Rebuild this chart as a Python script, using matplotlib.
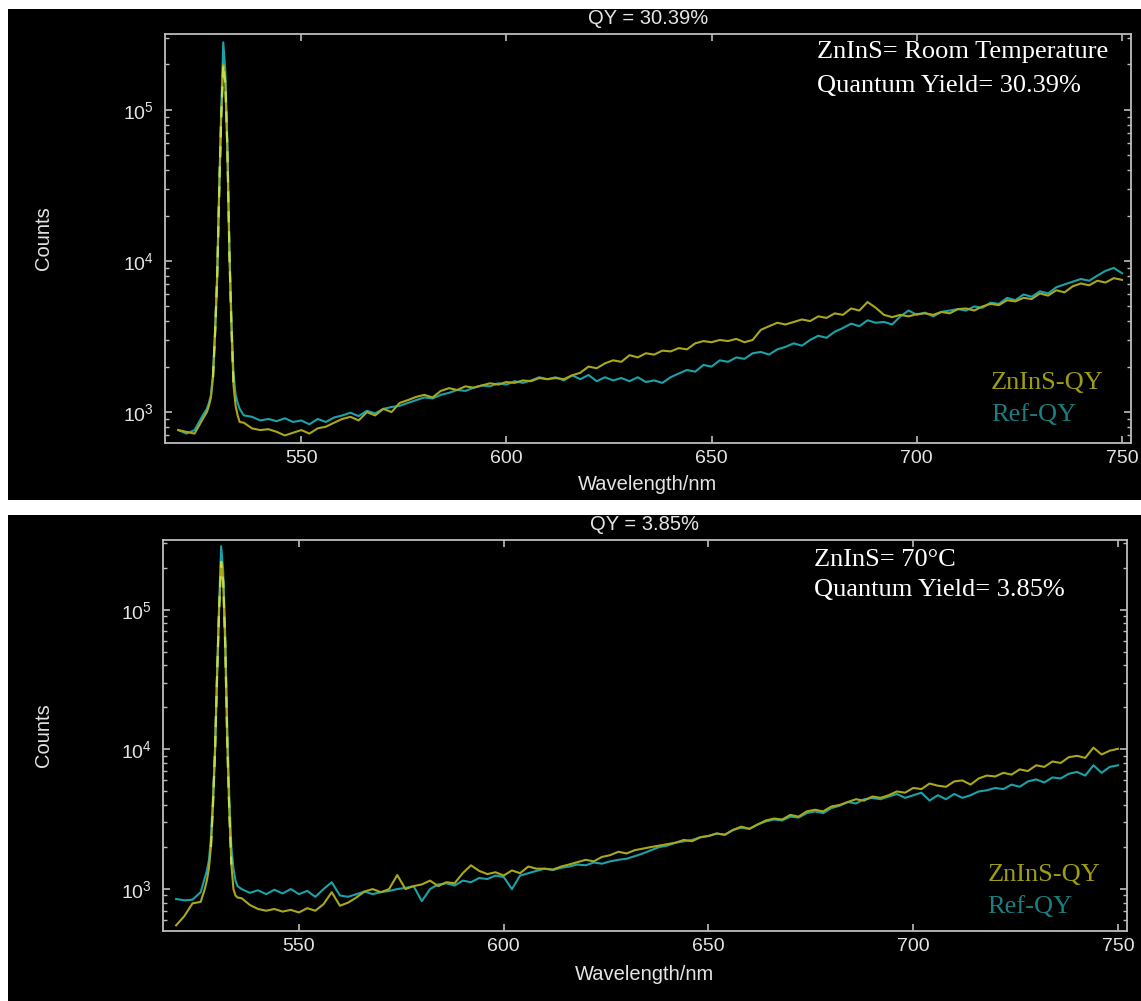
import matplotlib
matplotlib.use("Agg")
import matplotlib.pyplot as plt
from matplotlib.patches import Rectangle
from matplotlib.ticker import LogLocator, FixedLocator, NullFormatter

plt.rcParams['font.family'] = ['Liberation Sans', 'DejaVu Sans']
plt.rcParams['mathtext.default'] = 'regular'

# ---------------- data ----------------
wl_head = [520, 522, 524, 526,
           527, 527.5, 528, 528.5, 529, 529.5, 530, 530.5, 531, 531.5,
           532, 532.5, 533, 533.5, 534, 534.5, 535, 536]
wl_tail = [538, 540, 542, 544, 546, 548, 550, 552, 554, 556, 558, 560, 562, 564,
           566, 568, 570, 572, 574, 576, 578, 580, 582, 584, 586, 588, 590, 592,
           594, 596, 598, 600, 602, 604, 606, 608, 610, 612, 614, 616, 618, 620,
           622, 624, 626, 628, 630, 632, 634, 636, 638, 640, 642, 644, 646, 648,
           650, 652, 654, 656, 658, 660, 662, 664, 666, 668, 670, 672, 674, 676,
           678, 680, 682, 684, 686, 688, 690, 692, 694, 696, 698, 700, 702, 704,
           706, 708, 710, 712, 714, 716, 718, 720, 722, 724, 726, 728, 730, 732,
           734, 736, 738, 740, 742, 744, 746, 748, 750]
wavelength = wl_head + wl_tail

# Top panel (room temperature)
zn_rt_head = [760, 740, 720, 900,
              1000, 1100, 1250, 1700, 3300, 7500, 28000, 90000, 200000, 150000,
              55000, 11000, 3600, 1500, 1100, 950, 860, 850]
zn_rt_tail = [780, 760, 770, 740, 700, 730, 760, 720, 780, 800, 850, 900, 930, 880,
              1000, 950, 1050, 1000, 1150, 1200, 1260, 1300, 1250, 1380, 1440, 1400, 1480, 1450,
              1500, 1550, 1520, 1580, 1560, 1620, 1600, 1680, 1650, 1680, 1650, 1750, 1820, 2000,
              1950, 2100, 2200, 2150, 2380, 2300, 2450, 2400, 2550, 2520, 2650, 2600, 2850, 2950,
              2900, 3000, 2950, 3050, 2900, 3000, 3500, 3700, 3900, 3800, 3950, 4100, 4000, 4300,
              4200, 4500, 4400, 4850, 4700, 5350, 4900, 4400, 4250, 4400, 4300, 4450, 4500, 4400,
              4600, 4500, 4800, 4850, 4700, 5000, 5200, 5100, 5500, 5400, 5700, 5600, 6100, 5900,
              6400, 6200, 6800, 7100, 6900, 7400, 7200, 7700, 7500]
ref_rt_head = [760, 720, 760, 950,
               1050, 1150, 1300, 1800, 3500, 8000, 30000, 100000, 280000, 180000,
               60000, 12000, 4000, 1800, 1300, 1150, 1050, 950]
ref_rt_tail = [930, 880, 900, 870, 910, 860, 880, 830, 900, 860, 920, 950, 990, 940,
               1020, 980, 1050, 1080, 1100, 1150, 1200, 1250, 1230, 1300, 1340, 1400, 1380, 1450,
               1500, 1480, 1550, 1520, 1600, 1560, 1620, 1700, 1650, 1700, 1620, 1750, 1650, 1760,
               1600, 1700, 1620, 1680, 1600, 1700, 1580, 1620, 1560, 1700, 1800, 1900, 1850, 2050,
               2000, 2200, 2150, 2300, 2250, 2450, 2500, 2400, 2600, 2700, 2850, 2750, 3000, 3200,
               3100, 3400, 3600, 3850, 3700, 4050, 3900, 3950, 3800, 4300, 4700, 4400, 4550, 4300,
               4600, 4700, 4800, 4700, 5000, 4900, 5300, 5200, 5700, 5500, 6000, 5800, 6300, 6100,
               6700, 7000, 7300, 7600, 7400, 8000, 8600, 9000, 8300]

# Bottom panel (70 C)
zn_70_head = [550, 640, 790, 810,
              1000, 1150, 1400, 2000, 4000, 9500, 33000, 100000, 220000, 160000,
              55000, 11000, 3500, 1500, 1000, 900, 870, 860]
zn_70_tail = [770, 720, 700, 720, 690, 710, 680, 730, 700, 780, 950, 760, 800, 870,
              960, 1000, 950, 1000, 1260, 1000, 1050, 1080, 1150, 1050, 1120, 1100, 1300, 1480,
              1350, 1280, 1320, 1250, 1360, 1300, 1450, 1400, 1400, 1380, 1450, 1500, 1560, 1620,
              1580, 1700, 1750, 1850, 1800, 1900, 1950, 2000, 2050, 2100, 2150, 2250, 2200, 2350,
              2400, 2500, 2450, 2650, 2800, 2700, 2900, 3100, 3200, 3150, 3400, 3300, 3600, 3700,
              3600, 3900, 4000, 4200, 4400, 4300, 4600, 4500, 4700, 5000, 4900, 5300, 5200, 5700,
              5500, 5400, 5900, 6000, 5600, 6200, 6500, 6400, 6800, 6600, 7200, 7000, 7700, 7500,
              8200, 8000, 8800, 9000, 8700, 10300, 9200, 9800, 10100]
ref_70_head = [850, 830, 840, 950,
               1200, 1350, 1600, 2300, 4500, 10000, 35000, 110000, 285000, 190000,
               65000, 14000, 4500, 2000, 1400, 1150, 1050, 1000]
ref_70_tail = [940, 980, 920, 990, 930, 1000, 920, 970, 880, 1000, 1120, 900, 880, 920,
               960, 920, 950, 970, 1000, 1020, 1050, 820, 1000, 1080, 1100, 1060, 1150, 1120,
               1200, 1180, 1250, 1220, 1000, 1250, 1300, 1350, 1400, 1370, 1420, 1450, 1500, 1480,
               1550, 1520, 1580, 1620, 1650, 1720, 1800, 1900, 2000, 2050, 2150, 2200, 2250, 2350,
               2400, 2500, 2450, 2650, 2750, 2700, 2900, 3050, 3150, 3100, 3300, 3250, 3500, 3600,
               3500, 3800, 3950, 4200, 4100, 4400, 4500, 4400, 4600, 4800, 4500, 4700, 4900, 4300,
               4700, 4400, 4800, 4500, 4700, 5000, 5100, 5300, 5200, 5600, 5400, 5900, 6100, 5800,
               6300, 6200, 6700, 6900, 6500, 7700, 6800, 7500, 7700]

panels = [
    dict(title="QY = 30.39%", cond="ZnInS= Room Temperature", qy="Quantum Yield= 30.39%",
         zn=zn_rt_head + zn_rt_tail, ref=ref_rt_head + ref_rt_tail,
         ylim=(624, 3.18e5)),
    dict(title="QY = 3.85%", cond="ZnInS= 70\u00b0C", qy="Quantum Yield= 3.85%",
         zn=zn_70_head + zn_70_tail, ref=ref_70_head + ref_70_tail,
         ylim=(501, 3.16e5)),
]

xticks = [550, 600, 650, 700, 750]
zn_color = '#a9a81a'
ref_color = '#1aa2a8'
zn_text = '#9d9c14'
ref_text = '#1a7e80'
fg = '#e4e4e4'
spine = '#bdbdbd'

W, H = 1141, 1001
fig = plt.figure(figsize=(W / 100, H / 100), dpi=100, facecolor='white')

# black panel backgrounds
fig.patches.append(Rectangle((8 / W, 1 - 500 / H), (W - 8) / W, 491 / H,
                             transform=fig.transFigure, facecolor='black', edgecolor='none', zorder=-10))
fig.patches.append(Rectangle((8 / W, 0), (W - 8) / W, 486 / H,
                             transform=fig.transFigure, facecolor='black', edgecolor='none', zorder=-10))

axes_px = [(165, 1131, 34, 443), (163, 1127, 540, 931)]
xlab_y = [-0.079, -0.087]
ylab_x = [-0.116, -0.114]
cond_y = [(0.955, 0.873), (0.949, 0.872)]
leg_y = [(0.147, 0.068), (0.143, 0.061)]

for i, (p, (l, r, t, b)) in enumerate(zip(panels, axes_px)):
    ax = fig.add_axes([l / W, 1 - b / H, (r - l) / W, (b - t) / H])
    ax.set_facecolor('black')
    ax.set_yscale('log')
    ax.plot(wavelength, p['ref'], color=ref_color, lw=1.5, zorder=2)
    ax.plot(wavelength, p['zn'], color=zn_color, lw=1.5, zorder=3)
    # bright dashed overlap look in the excitation peak
    pk_w = [w for w in wavelength if 528.5 <= w <= 533.5]
    pk_z = [z for w, z in zip(wavelength, p['zn']) if 528.5 <= w <= 533.5]
    ax.plot(pk_w, pk_z, color='#c4dc46', lw=1.6, dashes=(5, 4), zorder=4)
    ax.set_xlim(516.8, 752.2)
    ax.set_ylim(*p['ylim'])
    for s in ax.spines.values():
        s.set_color(spine)
        s.set_linewidth(1.3)
    ax.xaxis.set_major_locator(FixedLocator(xticks))
    ax.yaxis.set_major_locator(LogLocator(base=10, numticks=10))
    ax.yaxis.set_minor_locator(LogLocator(base=10, subs=range(2, 10), numticks=20))
    ax.yaxis.set_minor_formatter(NullFormatter())
    ax.tick_params(which='both', direction='in', top=True, right=True, colors=spine,
                   labelcolor=fg, labelsize=14)
    ax.tick_params(which='major', length=5, width=1.2)
    ax.tick_params(which='minor', length=3, width=1)
    ax.tick_params(axis='y', pad=8)
    ax.tick_params(axis='x', pad=5)
    ax.set_title(p['title'], color=fg, fontsize=14.5, pad=7)
    ax.set_xlabel("Wavelength/nm", color=fg, fontsize=14.5)
    ax.xaxis.set_label_coords(0.5, xlab_y[i])
    ax.set_ylabel("Counts", color=fg, fontsize=14.5)
    ax.yaxis.set_label_coords(ylab_x[i], 0.5)

    ax.text(0.675, cond_y[i][0], p['cond'], transform=ax.transAxes,
            color='white', fontsize=19, family='Liberation Serif', va='center', ha='left')
    ax.text(0.675, cond_y[i][1], p['qy'], transform=ax.transAxes,
            color='white', fontsize=19, family='Liberation Serif', va='center', ha='left')
    ax.text(0.855, leg_y[i][0], "ZnInS-QY", transform=ax.transAxes,
            color=zn_text, fontsize=19, family='Liberation Serif', va='center', ha='left')
    ax.text(0.855, leg_y[i][1], "Ref-QY", transform=ax.transAxes,
            color=ref_text, fontsize=19, family='Liberation Serif', va='center', ha='left')

fig.savefig("out.png", dpi=100, facecolor='white')
